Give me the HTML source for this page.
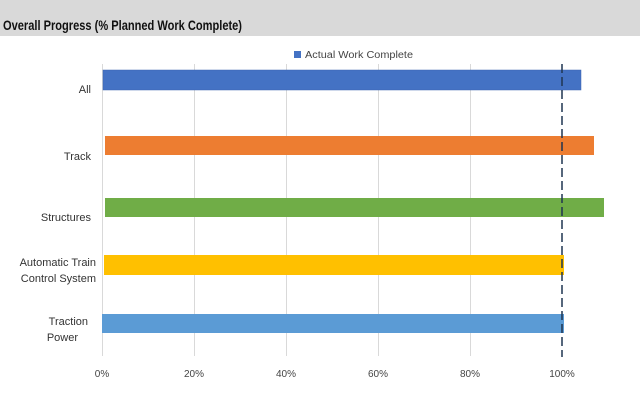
<!DOCTYPE html>
<html><head><style>
body{margin:0;background:#fff;}
</style></head><body>
<svg width="640" height="412" xmlns="http://www.w3.org/2000/svg" style="display:block;font-family:'Liberation Sans',sans-serif">
<rect x="0" y="0" width="640" height="36" fill="#d9d9d9"/>
<text x="3" y="30" font-size="14" font-weight="bold" fill="#111" textLength="239" lengthAdjust="spacingAndGlyphs">Overall Progress (% Planned Work Complete)</text>
<rect x="294" y="51" width="7" height="7" fill="#4472c4"/>
<text x="305" y="58" font-size="10" fill="#444" textLength="108" lengthAdjust="spacingAndGlyphs">Actual Work Complete</text>
<g stroke="#d9d9d9" stroke-width="1">
<line x1="102.5" y1="64" x2="102.5" y2="356"/>
<line x1="194.5" y1="64" x2="194.5" y2="356"/>
<line x1="286.5" y1="64" x2="286.5" y2="356"/>
<line x1="378.5" y1="64" x2="378.5" y2="356"/>
<line x1="470.5" y1="64" x2="470.5" y2="356"/>
</g>
<rect x="103" y="70" width="478" height="20" fill="#4472c4" stroke="#3a64b0" stroke-width="0.5"/>
<rect x="105" y="136" width="489" height="19" fill="#ed7d31"/>
<rect x="105" y="198" width="499" height="19" fill="#70ad47"/>
<rect x="104" y="255" width="460" height="20" fill="#ffc000"/>
<rect x="102" y="314" width="462" height="19" fill="#5b9bd5"/>
<line x1="562" y1="64" x2="562" y2="357" stroke="#1f3550" stroke-width="1.5" stroke-dasharray="9,4"/>
<g font-size="11" fill="#333" text-anchor="end">
<text x="91" y="93">All</text>
<text x="91" y="160">Track</text>
<text x="91" y="221">Structures</text>
<text x="96" y="266">Automatic Train</text>
<text x="96" y="282">Control System</text>
<text x="88" y="325">Traction</text>
<text x="78" y="341">Power</text>
</g>
<g font-size="10" fill="#444" text-anchor="middle">
<text x="102" y="377">0%</text>
<text x="194" y="377">20%</text>
<text x="286" y="377">40%</text>
<text x="378" y="377">60%</text>
<text x="470" y="377">80%</text>
<text x="562" y="377">100%</text>
</g>
</svg>
</body></html>
